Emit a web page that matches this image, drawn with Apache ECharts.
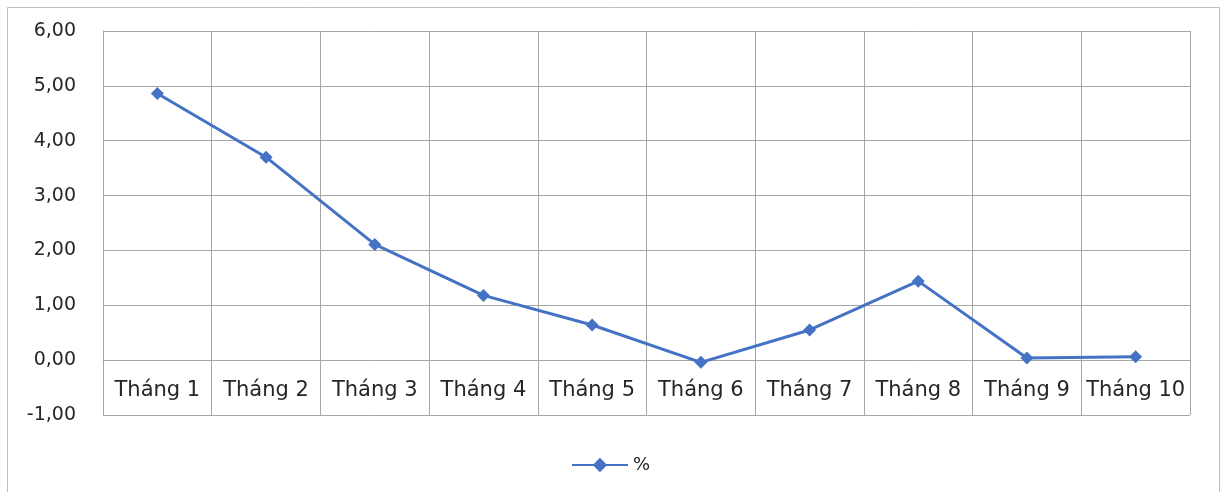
<!DOCTYPE html>
<html>
<head>
<meta charset="utf-8">
<script src="https://cdn.jsdelivr.net/npm/echarts@6/dist/echarts.min.js"></script>
<style>
  html, body { margin: 0; padding: 0; background: #fff; }
  #chart { width: 1221px; height: 492px; }
</style>
</head>
<body>
<div id="chart"></div>
<script>
// Monthly change (%), months 1–10
const months = ['Tháng 1', 'Tháng 2', 'Tháng 3', 'Tháng 4', 'Tháng 5', 'Tháng 6', 'Tháng 7', 'Tháng 8', 'Tháng 9', 'Tháng 10'];
const percentValues = [4.86, 3.70, 2.11, 1.18, 0.64, -0.04, 0.55, 1.44, 0.04, 0.06];
const seriesName = '%';
const yMin = -1, yMax = 6, yStep = 1;

const fontFamily = '"DejaVu Sans", "Open Sans", sans-serif';
const gridColor = '#A6A6A6';
const lineColor = '#4472C4';
const textColor = '#262626';

// Plot area
const gridBox = { left: 103, right: 31, top: 31, bottom: 77 };
const plotHeight = 492 - gridBox.top - gridBox.bottom;
// Lift the category axis from the bottom edge up to the zero line
const zeroOffset = -plotHeight * (0 - yMin) / (yMax - yMin);

const chart = echarts.init(document.getElementById('chart'), null, { renderer: 'canvas' });

chart.setOption({
  animation: false,
  backgroundColor: '#ffffff',
  graphic: [{
    type: 'rect',
    left: 5, top: 5,
    shape: { width: 1212, height: 500 },
    style: { fill: 'none', stroke: '#BFBFBF', lineWidth: 1 },
    silent: true
  }],
  grid: Object.assign({ containLabel: false }, gridBox),
  legend: {
    data: [seriesName],
    top: 451,
    left: 'center',
    itemWidth: 56,
    itemHeight: 18,
    itemGap: 6,
    textStyle: { fontFamily, fontSize: 18, color: textColor }
  },
  xAxis: [{
    // labels and zero line
    type: 'category',
    data: months,
    boundaryGap: true,
    position: 'bottom',
    offset: zeroOffset,
    axisLine: { show: true, onZero: false, lineStyle: { color: gridColor, width: 1 } },
    axisTick: { show: false },
    axisLabel: { interval: 0, margin: 20, fontFamily, fontSize: 21, color: textColor },
    splitLine: { show: true, interval: 0, lineStyle: { color: gridColor, width: 1 } }
  }],
  yAxis: {
    type: 'value',
    min: yMin,
    max: yMax,
    interval: yStep,
    axisLine: { show: true, lineStyle: { color: gridColor, width: 1 } },
    axisTick: { show: false },
    axisLabel: {
      margin: 27,
      fontFamily, fontSize: 19, color: textColor,
      formatter: v => v.toFixed(2).replace('.', ',')
    },
    splitLine: { show: true, lineStyle: { color: gridColor, width: 1 } }
  },
  series: [{
    name: seriesName,
    type: 'line',
    data: percentValues,
    symbol: 'diamond',
    symbolSize: 13,
    lineStyle: { color: lineColor, width: 3 },
    itemStyle: { color: lineColor },
    z: 5
  }]
});
</script>
</body>
</html>
